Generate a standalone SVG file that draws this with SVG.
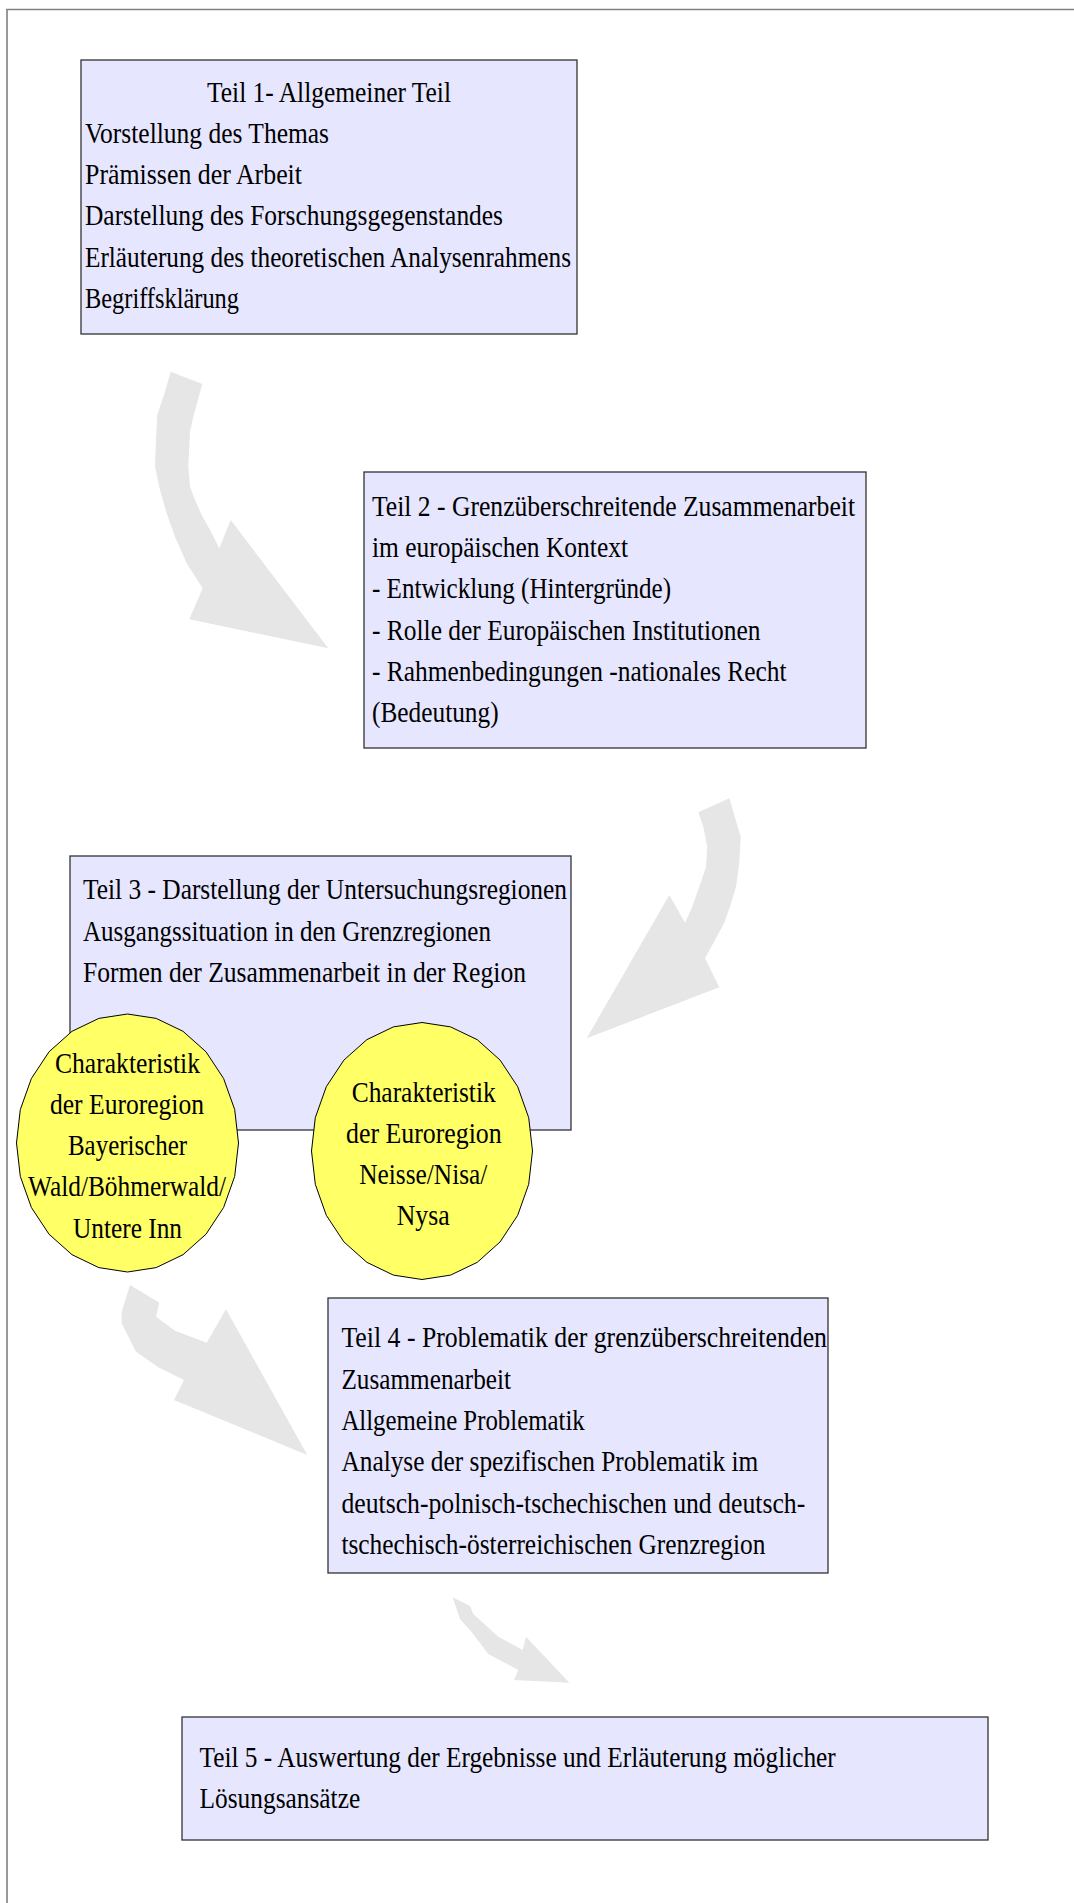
<svg xmlns="http://www.w3.org/2000/svg" width="1074" height="1903" viewBox="0 0 1074 1903">
  <style>
    .frame { fill: none; stroke: #808080; stroke-width: 1.6; }
    .box { fill: #e6e6ff; stroke: #333333; stroke-width: 1.3; }
    .oval { fill: #ffff66; stroke: #000000; stroke-width: 1; }
    .flow { fill: #e6e6e6; stroke: none; }
    text { font-family: "Liberation Serif", "Times New Roman", serif; font-size: 30px; fill: #000000; }
  </style>

  <rect x="0" y="0" width="1074" height="1903" fill="#ffffff"/>
  <path class="frame" d="M7,1903 V9.5 H1074"/>

  <!-- curved block arrows between the parts -->
  <g id="connectors">
    <polygon class="flow" points="170.7,371.7 202.3,384 193.3,416.7 190,431.7 188.3,466.7 190,486.7 195,500 201.7,515 210,530 219.3,548.3 230.7,520 328.3,648.3 189.3,619.3 202.7,588.3 186.7,563.3 175,536.7 166.7,513.3 160,490 155,466.7 156,440 157.3,415 165,391.7"/>
    <polygon class="flow" points="698.3,812.3 729.3,798.3 736.7,823.3 740.7,836.7 739.3,863.3 736,886.7 730,906.7 724,923.3 715,940 705,958.3 719.3,987.3 586.7,1038.3 669.3,895 685,922.7 691.7,908.3 701.7,880 706,866.7 707.3,846.7 703.3,826.7"/>
    <polygon class="flow" points="130,1285 159.3,1302.7 156,1316.7 175,1330.7 206.7,1342.7 226,1309.3 307.3,1455 174,1400 184,1380 158.3,1367.3 136,1351.7 121.7,1323.3 121.7,1311.7"/>
    <polygon class="flow" points="452.7,1597.3 470,1606 473.3,1614 498.3,1636.7 522.7,1650 526,1636.7 569.3,1682.7 514,1680 518.3,1670 488.3,1654 470,1630 460,1619.3"/>
  </g>

  <g id="teil1">
    <rect class="box" x="81" y="60" width="496" height="274"/>
    <text x="207" y="101.5" textLength="244" lengthAdjust="spacingAndGlyphs">Teil 1- Allgemeiner Teil</text>
    <text x="85" y="142.8" textLength="244" lengthAdjust="spacingAndGlyphs">Vorstellung des Themas</text>
    <text x="85" y="184.1" textLength="217" lengthAdjust="spacingAndGlyphs">Prämissen der Arbeit</text>
    <text x="85" y="225.4" textLength="418" lengthAdjust="spacingAndGlyphs">Darstellung des Forschungsgegenstandes</text>
    <text x="85" y="266.7" textLength="486" lengthAdjust="spacingAndGlyphs">Erläuterung des theoretischen Analysenrahmens</text>
    <text x="85" y="308" textLength="154" lengthAdjust="spacingAndGlyphs">Begriffsklärung</text>
  </g>

  <g id="teil2">
    <rect class="box" x="364" y="472" width="502" height="276"/>
    <text x="372" y="516" textLength="483" lengthAdjust="spacingAndGlyphs">Teil 2 - Grenzüberschreitende Zusammenarbeit</text>
    <text x="372" y="557" textLength="256" lengthAdjust="spacingAndGlyphs">im europäischen Kontext</text>
    <text x="372" y="598.3" textLength="299" lengthAdjust="spacingAndGlyphs">- Entwicklung (Hintergründe)</text>
    <text x="372" y="639.5" textLength="388.5" lengthAdjust="spacingAndGlyphs">- Rolle der Europäischen Institutionen</text>
    <text x="372" y="680.8" textLength="414.5" lengthAdjust="spacingAndGlyphs">- Rahmenbedingungen -nationales Recht</text>
    <text x="372" y="722" textLength="126.6" lengthAdjust="spacingAndGlyphs">(Bedeutung)</text>
  </g>

  <g id="teil3">
    <rect class="box" x="70" y="856" width="501" height="274"/>
    <text x="83" y="899.3" textLength="484" lengthAdjust="spacingAndGlyphs">Teil 3 - Darstellung der Untersuchungsregionen</text>
    <text x="83" y="940.6" textLength="408" lengthAdjust="spacingAndGlyphs">Ausgangssituation in den Grenzregionen</text>
    <text x="83" y="981.9" textLength="443" lengthAdjust="spacingAndGlyphs">Formen der Zusammenarbeit in der Region</text>
  </g>

  <g id="euroregion-bayerischer-wald">
    <polygon class="oval" points="238.5,1143 234.7,1176.4 223.6,1207.5 206,1234.2 183,1254.7 156.2,1267.6 127.5,1272 98.8,1267.6 72,1254.7 49,1234.2 31.4,1207.5 20.3,1176.4 16.5,1143 20.3,1109.6 31.4,1078.5 49,1051.8 72,1031.3 98.8,1018.4 127.5,1014 156.2,1018.4 183,1031.3 206,1051.8 223.6,1078.5 234.7,1109.6"/>
    <text x="55" y="1072.5" textLength="145" lengthAdjust="spacingAndGlyphs">Charakteristik</text>
    <text x="50" y="1113.8" textLength="154" lengthAdjust="spacingAndGlyphs">der Euroregion</text>
    <text x="68" y="1155.1" textLength="119" lengthAdjust="spacingAndGlyphs">Bayerischer</text>
    <text x="28" y="1196.4" textLength="198" lengthAdjust="spacingAndGlyphs">Wald/Böhmerwald/</text>
    <text x="73" y="1237.7" textLength="109" lengthAdjust="spacingAndGlyphs">Untere Inn</text>
  </g>

  <g id="euroregion-neisse">
    <polygon class="oval" points="532.5,1151 528.7,1184.3 517.7,1215.3 500.1,1241.9 477.3,1262.3 450.6,1275.1 422,1279.5 393.4,1275.1 366.8,1262.3 343.9,1241.9 326.3,1215.3 315.3,1184.3 311.5,1151 315.3,1117.7 326.3,1086.7 343.9,1060.1 366.8,1039.7 393.4,1026.9 422,1022.5 450.6,1026.9 477.3,1039.7 500.1,1060.1 517.7,1086.7 528.7,1117.7"/>
    <text x="351.7" y="1101.7" textLength="144" lengthAdjust="spacingAndGlyphs">Charakteristik</text>
    <text x="346" y="1142.8" textLength="155.7" lengthAdjust="spacingAndGlyphs">der Euroregion</text>
    <text x="359.3" y="1184" textLength="128" lengthAdjust="spacingAndGlyphs">Neisse/Nisa/</text>
    <text x="396.7" y="1225.2" textLength="53" lengthAdjust="spacingAndGlyphs">Nysa</text>
  </g>

  <g id="teil4">
    <rect class="box" x="328" y="1298" width="500" height="275"/>
    <text x="341.4" y="1347.3" textLength="485.6" lengthAdjust="spacingAndGlyphs">Teil 4 - Problematik der grenzüberschreitenden</text>
    <text x="341.4" y="1388.6" textLength="169.6" lengthAdjust="spacingAndGlyphs">Zusammenarbeit</text>
    <text x="341.4" y="1429.9" textLength="243.3" lengthAdjust="spacingAndGlyphs">Allgemeine Problematik</text>
    <text x="341.4" y="1471.2" textLength="416.8" lengthAdjust="spacingAndGlyphs">Analyse der spezifischen Problematik im</text>
    <text x="341.4" y="1512.5" textLength="463.8" lengthAdjust="spacingAndGlyphs">deutsch-polnisch-tschechischen und deutsch-</text>
    <text x="341.4" y="1553.8" textLength="424.1" lengthAdjust="spacingAndGlyphs">tschechisch-österreichischen Grenzregion</text>
  </g>

  <g id="teil5">
    <rect class="box" x="182" y="1717" width="806" height="123"/>
    <text x="199.5" y="1766.7" textLength="636.3" lengthAdjust="spacingAndGlyphs">Teil 5 - Auswertung der Ergebnisse und Erläuterung möglicher</text>
    <text x="199.5" y="1807.5" textLength="160.7" lengthAdjust="spacingAndGlyphs">Lösungsansätze</text>
  </g>
</svg>
